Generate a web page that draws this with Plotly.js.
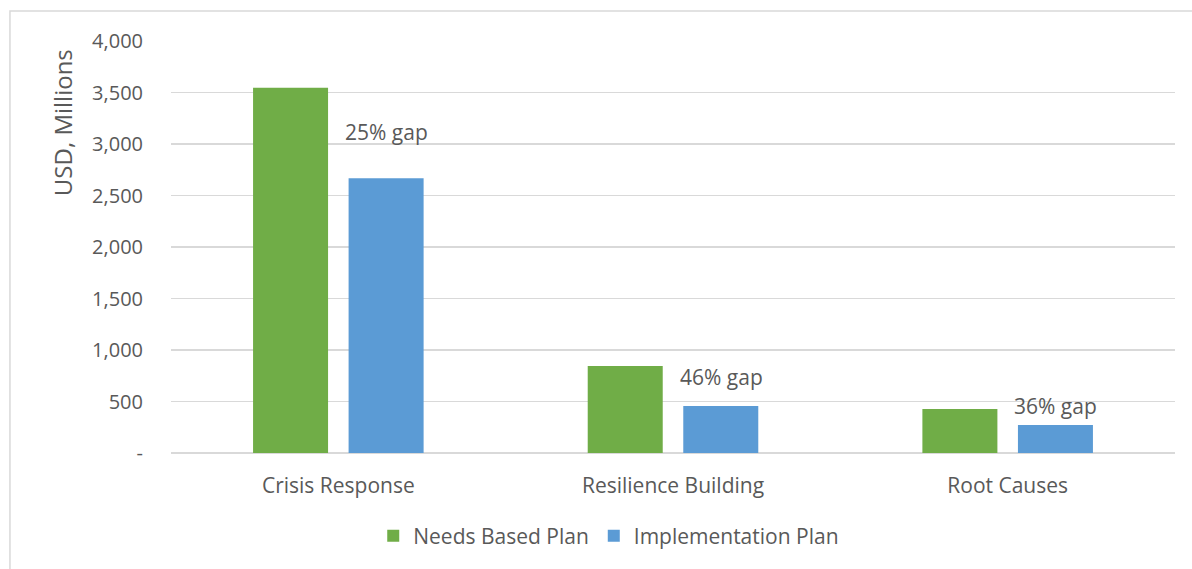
<!DOCTYPE html>
<html>
<head>
<meta charset="utf-8">
<script src="https://cdn.plot.ly/plotly-3.0.1.min.js"></script>
<style>
html,body{margin:0;padding:0;background:#fff;}
#chart{width:1192px;height:569px;}
</style>
</head>
<body>
<div id="chart"></div>
<script>
const categories = ["Crisis Response", "Resilience Building", "Root Causes"];
const needsBased = [3545, 845, 428];
const implementation = [2668, 456, 272];
const gapLabels = ["25% gap", "46% gap", "36% gap"];
const gapLabelY = [3115, 735, 460];
const yTickVals = [0, 500, 1000, 1500, 2000, 2500, 3000, 3500, 4000];
const yTickText = ["-", "500", "1,000", "1,500", "2,000", "2,500", "3,000", "3,500", "4,000"];

const fam = "'Open Sans', sans-serif";
const col = "#595959";
const f = (s) => ({family: fam, size: s, color: col});

const traces = [
  {type: "bar", name: "Needs Based Plan", x: categories, y: needsBased,
   marker: {color: "#70AD47"}, hoverinfo: "none"},
  {type: "bar", name: "Implementation Plan", x: categories, y: implementation,
   marker: {color: "#5B9BD5"}, hoverinfo: "none"}
];

const annotations = categories.map((c, i) => ({
  x: c, y: gapLabelY[i], xref: "x", yref: "y", text: gapLabels[i],
  showarrow: false, xshift: 48, font: f(21)
}));
annotations.push({
  text: "USD, Millions", textangle: -90, xref: "paper", yref: "paper",
  x: -0.1086, y: 0.803, xanchor: "center", yanchor: "middle",
  showarrow: false, font: f(24)
});

const layout = {
  width: 1192, height: 569,
  margin: {l: 171, r: 17, t: 41, b: 116},
  paper_bgcolor: "#fff", plot_bgcolor: "#fff",
  font: f(20),
  barmode: "group", bargap: 0.429, bargroupgap: 0.215,
  showlegend: true,
  legend: {orientation: "h", x: 0.436, xanchor: "center", y: -0.2015, yanchor: "middle",
           font: f(21), traceorder: "normal", itemwidth: 30},
  xaxis: {type: "category", showgrid: false, showline: false, zeroline: false,
          ticks: "", tickfont: f(21), ticklabelstandoff: 18},
  yaxis: {range: [0, 4000], tickvals: yTickVals, ticktext: yTickText,
          showgrid: true, gridcolor: "#D9D9D9", gridwidth: 1.3, zeroline: true,
          zerolinecolor: "#D9D9D9", zerolinewidth: 1.3, showline: false,
          ticks: "", tickfont: f(20), ticklabelstandoff: 27},
  annotations: annotations,
  shapes: [{type: "rect", xref: "paper", yref: "paper",
            x0: -0.1604, x1: 1.03, y0: -0.3, y1: 1.0728,
            line: {color: "#D9D9D9", width: 1.5}, fillcolor: "rgba(0,0,0,0)", layer: "below"}]
};

Plotly.newPlot("chart", traces, layout, {displayModeBar: false, staticPlot: true});
</script>
</body>
</html>
